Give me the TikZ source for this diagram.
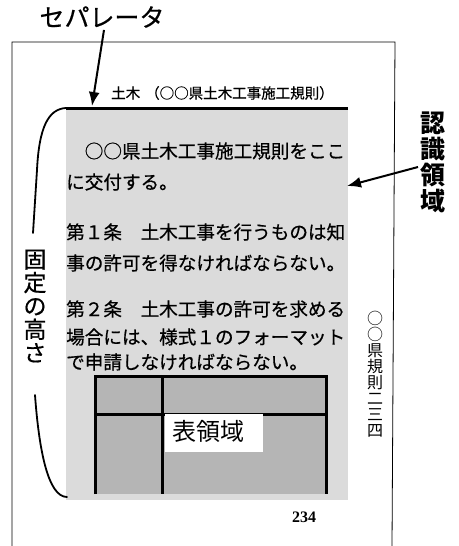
\documentclass[tikz,border=0pt]{standalone}
\usepackage{fontspec}
\setmainfont{Noto Sans CJK JP}
\newfontfamily\numfont{Liberation Serif}
\newfontfamily\bodyfont[FakeBold=0.6]{Noto Sans CJK JP}
\usetikzlibrary{arrows.meta}
\tikzset{
  body/.style={anchor=west,inner sep=0pt,font=\bodyfont\fontsize{18.6}{20}\selectfont},
  vlabel/.style={align=center,inner sep=0pt},
  bigarrow/.style={line width=2pt,-{Latex[length=14pt,width=11pt]}},
  bracket/.style={line width=1.8pt,line cap=round},
}
\begin{document}
\begin{tikzpicture}[x=1pt,y=-1pt]
\useasboundingbox (0,0) rectangle (458,546);
% page frame
\draw[line width=0.8pt] (12,546) -- (12,42) -- (395,42) -- (392,546);
% recognition area
\fill[gray!28] (66,108) rectangle (348,500);
% table
\fill[gray!58] (95,376) rectangle (326,494);
\draw[line width=3pt] (95,494) -- (95,376) -- (326,376) -- (326,494);
\draw[line width=3pt] (162,376) -- (162,494);
\draw[line width=3pt] (95,414) -- (326,414);
\node[fill=white,inner sep=0pt,minimum width=98pt,minimum height=38pt] (tbl) at (214,433) {};
\node[font=\fontsize{24}{26}\selectfont,anchor=west,inner sep=0pt] (tbltxt) at (172,431) {表領域};
% separator line
\draw[line width=3pt] (348,108) -- (66,108);
% bracket
\draw[bracket] (66,108) .. controls (48,109) and (39,128) .. (37,170) -- (33,233);
\draw[bracket] (35,395) .. controls (39,450) and (48,497) .. (67,497);
% header
\node[anchor=west,inner sep=0pt,font=\bodyfont\fontsize{14.5}{16}\selectfont] (hd1) at (111,93) {土木};
\node[anchor=west,inner sep=0pt,font=\bodyfont\fontsize{14.5}{16}\selectfont] (hd2) at (145,93) {（○○県土木工事施工規則）};
% body text
\node[body] (l1) at (66,151) {　○○県土木工事施工規則をここ};
\node[body] (l2) at (66,182) {に交付する。};
\node[body] (l3) at (66,232) {第１条　土木工事を行うものは知};
\node[body] (l4) at (66,263) {事の許可を得なければならない。};
\node[body] (l5) at (66,309) {第２条　土木工事の許可を求める};
\node[body] (l6) at (66,337) {場合には、様式１のフォーマット};
\node[body] (l7) at (66,362) {で申請しなければならない。};
% page number
\node[font=\numfont\bfseries\fontsize{16}{17}\selectfont,inner sep=0pt] (pg) at (304,517) {234};
% labels
\node[font=\bodyfont\fontsize{25}{27}\selectfont,inner sep=0pt] (sep) at (102,17) {セパレータ};
\coordinate (septip) at (92,106);
\draw[bigarrow] (sep.south) ++(2,2) -- (septip);
\node[vlabel,font=\bfseries\fontsize{25}{26}\selectfont] (ninshiki) at (433,162) {認\\識\\領\\域};
\coordinate (ntip) at (347,186);
\draw[bigarrow] (418,167) -- (ntip);
\node[vlabel,font=\bodyfont\fontsize{23}{23.4}\selectfont] (kotei) at (35,306) {固\\定\\の\\高\\さ};
\node[vlabel,font=\fontsize{16}{16}\selectfont] (ken) at (375,374) {○\\○\\県\\規\\則\\二\\三\\四};
\end{tikzpicture}
\end{document}
